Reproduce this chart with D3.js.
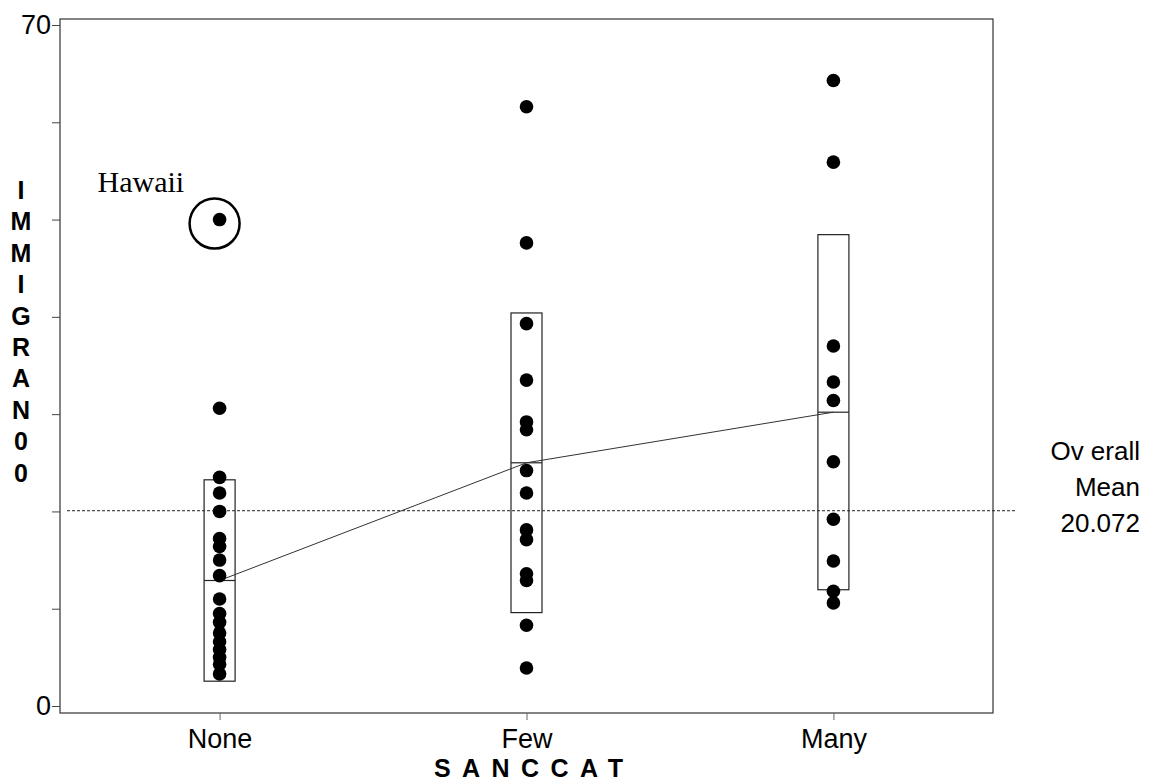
<!DOCTYPE html>
<html>
<head>
<meta charset="utf-8">
<script src="https://cdn.jsdelivr.net/npm/d3@7"></script>
<style>
	body { margin: 0; background: #fff; }
	text { font-family: "Liberation Sans", Arial, sans-serif; fill: #000; }
	.tick-label { font-size: 27px; }
	.axis-title { font-size: 25px; font-weight: bold; }
	.note { font-size: 26px; }
	.hawaii-label { font-family: "Liberation Serif", "Times New Roman", serif; font-size: 30px; }
</style>
</head>
<body>
<svg id="chart" width="1156" height="783"></svg>
<script>
const categories = ["None", "Few", "Many"];

const noneValues = [50.0, 30.6, 23.5, 21.9, 20.0, 17.2, 16.4, 15.0, 13.4, 11.0,
	9.5, 8.6, 7.5, 6.6, 5.8, 5.0, 4.3, 3.3];
const fewValues = [61.6, 47.6, 39.3, 33.5, 29.2, 28.4, 24.2, 21.9, 18.1, 17.1,
	13.6, 12.9, 8.3, 3.9];
const manyValues = [64.3, 55.9, 37.0, 33.3, 31.4, 25.1, 19.2, 14.9, 11.8, 10.6];

// group mean and standard deviation, as drawn in the boxes
const groupMeans = [12.9, 25.0, 30.2];
const groupSDs = [10.35, 15.4, 18.25];

const overallMean = 20.072;
const yTicks = [0, 10, 20, 30, 40, 50, 60, 70];
const yTickLabels = ["0", "", "", "", "", "", "", "70"];

const outlier = { category: "None", value: 50.0, label: "Hawaii" };

const svg = d3.select("svg#chart");

const frame = { left: 60, right: 993, top: 19, bottom: 713 };

const x = d3.scalePoint()
	.domain(categories)
	.range([frame.left, frame.right])
	.padding(0.52);

const y = d3.scaleLinear()
	.domain([0, 70])
	.range([706, 25]);

const boxWidth = 31;
const dotRadius = 6.8;

// frame
svg.append("rect")
	.attr("x", frame.left)
	.attr("y", frame.top)
	.attr("width", frame.right - frame.left)
	.attr("height", frame.bottom - frame.top)
	.attr("fill", "none")
	.attr("stroke", "#333")
	.attr("stroke-width", 1.2);

// y axis ticks
const yAxis = d3.axisLeft(y)
	.tickValues(yTicks)
	.tickSize(8)
	.tickPadding(1)
	.tickFormat((d, i) => yTickLabels[i]);

svg.append("g")
	.attr("transform", `translate(${frame.left},0)`)
	.call(yAxis)
	.call((g) => g.select(".domain").remove())
	.call((g) => g.selectAll(".tick line").attr("stroke", "#444"))
	.call((g) => g.selectAll(".tick text")
		.attr("class", "tick-label")
		.attr("font-family", null)
		.attr("font-size", null));

// x axis ticks
const xAxis = d3.axisBottom(x)
	.tickSize(7)
	.tickPadding(9);

svg.append("g")
	.attr("transform", `translate(0,${frame.bottom})`)
	.call(xAxis)
	.call((g) => g.select(".domain").remove())
	.call((g) => g.selectAll(".tick line").attr("stroke", "#666"))
	.call((g) => g.selectAll(".tick text")
		.attr("class", "tick-label")
		.attr("font-family", null)
		.attr("font-size", null));

// axis titles
svg.append("text")
	.attr("class", "axis-title")
	.attr("x", x("Few") + 2)
	.attr("y", 777)
	.attr("text-anchor", "middle")
	.attr("textLength", 189)
	.attr("lengthAdjust", "spacing")
	.text("SANCCAT");

const yTitle = "IMMIGRAN00".split("");
svg.append("g")
	.selectAll("text")
	.data(yTitle)
	.join("text")
	.attr("class", "axis-title")
	.attr("x", 21)
	.attr("y", (d, i) => 199 + i * 31.4)
	.attr("text-anchor", "middle")
	.text((d) => d);

// overall mean reference line
svg.append("line")
	.attr("x1", 67)
	.attr("x2", 1017)
	.attr("y1", y(overallMean))
	.attr("y2", y(overallMean))
	.attr("stroke", "#222")
	.attr("stroke-width", 1)
	.attr("stroke-dasharray", "3,2");

svg.append("g")
	.selectAll("text")
	.data(["Ov erall", "Mean", overallMean.toFixed(3)])
	.join("text")
	.attr("class", "note")
	.attr("x", 1140)
	.attr("y", (d, i) => 460 + i * 36)
	.attr("text-anchor", "end")
	.text((d) => d);

// mean +/- sd boxes
const groups = categories.map((c, i) => ({
	category: c,
	mean: groupMeans[i],
	sd: groupSDs[i],
}));

const boxes = svg.append("g")
	.selectAll("g")
	.data(groups)
	.join("g");

boxes.append("rect")
	.attr("x", (d) => x(d.category) - boxWidth / 2)
	.attr("y", (d) => y(d.mean + d.sd))
	.attr("width", boxWidth)
	.attr("height", (d) => y(d.mean - d.sd) - y(d.mean + d.sd))
	.attr("fill", "none")
	.attr("stroke", "#222")
	.attr("stroke-width", 1.2);

boxes.append("line")
	.attr("x1", (d) => x(d.category) - boxWidth / 2)
	.attr("x2", (d) => x(d.category) + boxWidth / 2)
	.attr("y1", (d) => y(d.mean))
	.attr("y2", (d) => y(d.mean))
	.attr("stroke", "#222")
	.attr("stroke-width", 1.2);

// line through the group means
svg.append("path")
	.datum(groups)
	.attr("fill", "none")
	.attr("stroke", "#333")
	.attr("stroke-width", 1)
	.attr("d", d3.line()
		.x((d) => x(d.category))
		.y((d) => y(d.mean)));

// points
const points = [
	...noneValues.map((v) => ({ category: "None", value: v })),
	...fewValues.map((v) => ({ category: "Few", value: v })),
	...manyValues.map((v) => ({ category: "Many", value: v })),
];

svg.append("g")
	.selectAll("circle")
	.data(points)
	.join("circle")
	.attr("cx", (d) => x(d.category))
	.attr("cy", (d) => y(d.value))
	.attr("r", dotRadius)
	.attr("fill", "#000");

// outlier annotation
const ox = x(outlier.category);
const oy = y(outlier.value);
svg.append("circle")
	.attr("cx", ox - 5)
	.attr("cy", oy + 4)
	.attr("r", 25)
	.attr("fill", "none")
	.attr("stroke", "#000")
	.attr("stroke-width", 2.5);

svg.append("text")
	.attr("class", "hawaii-label")
	.attr("x", ox - 122)
	.attr("y", oy - 28)
	.text(outlier.label);
</script>
</body>
</html>
